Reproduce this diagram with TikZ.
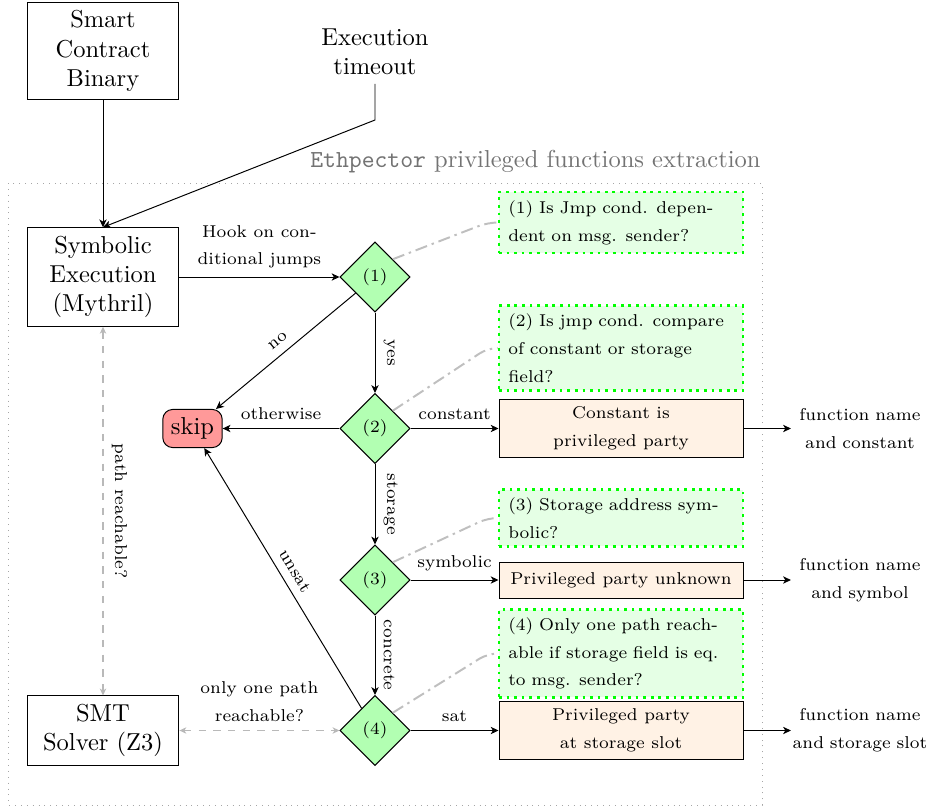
\documentclass[tikz,border=0pt]{standalone}
\usetikzlibrary{shapes.geometric, arrows.meta}
\newcommand\smallfnt{\fontsize{7}{11.3}\selectfont}
\begin{document}
\begin{tikzpicture}[x=0.4082pt, y=-0.4082pt,
  box/.style={draw, align=center, minimum width=62pt, inner sep=3.33pt},
  dec/.style={diamond, draw, fill=green!30, aspect=1, minimum width=28.6pt, minimum height=28.6pt, inner sep=0pt, font=\smallfnt},
  skipbox/.style={draw, rounded corners=4pt, fill=red!40, inner sep=3.33pt},
  note/.style={draw=green, dotted, line width=1.1pt, fill=green!10, align=left, text width=92pt, minimum width=99.6pt, inner sep=3.3pt, font=\smallfnt},
  res/.style={draw, fill=orange!10, align=center, minimum width=99.6pt, inner sep=2pt, font=\smallfnt},
  outtxt/.style={align=center, text width=56pt, inner sep=0pt, font=\smallfnt},
  lbl/.style={font=\smallfnt, align=center},
  arr/.style={-{Stealth[length=3.2pt, width=3pt, inset=0.9pt]}},
  garr/.style={{Stealth[length=2.8pt, width=2.6pt, inset=0.8pt]}-{Stealth[length=2.8pt, width=2.6pt, inset=0.8pt]}, gray!55, dashed, semithick},
  nline/.style={gray!50, thick, dash pattern=on 5pt off 2pt on 1pt off 2pt, rounded corners=4pt},
  frame/.style={draw=gray!70, dotted}
]
\useasboundingbox (0,0) rectangle (928,807);
\draw[frame] (8,183) rectangle (762,805);
\node[anchor=base east, inner sep=0pt, text=black!55] (title) at (761,167) {\texttt{Ethpector} privileged functions extraction};

\node[box] (scb) at (103,51) {Smart\\Contract\\Binary};
\node[align=center] (tmo) at (375,52) {Execution\\timeout};
\node[box] (symb) at (103,277) {Symbolic\\Execution\\(Mythril)};
\node[box] (smt) at (103,730.5) {SMT\\Solver (Z3)};

\node[dec] (d1) at (375,277) {(1)};
\node[dec] (d2) at (375,428.5) {(2)};
\node[dec] (d3) at (375,580) {(3)};
\node[dec] (d4) at (375,730.5) {(4)};

\node[skipbox] (skip) at (192.5,428.5) {skip};

\node[note, minimum height=24.9pt] (n1) at (621,222.5) {(1) Is Jmp cond. depen-\\dent on msg. sender?};
\node[note, minimum height=32.7pt] (n2) at (621,348) {(2) Is jmp cond. compare\\of constant or storage\\field?};
\node[note, minimum height=22.9pt] (n3) at (621,518) {(3) Storage address sym-\\bolic?};
\node[note, minimum height=35.5pt] (n4) at (621,653.5) {(4) Only one path reach-\\able if storage field is eq.\\to msg. sender?};

\node[res, minimum height=23.3pt] (r1) at (621,428.5) {Constant is\\privileged party};
\node[res, minimum height=14.7pt] (r2) at (621,580) {Privileged party unknown};
\node[res, minimum height=23.3pt] (r3) at (621,730.5) {Privileged party\\at storage slot};

\node[outtxt] (o1) at (860,428.5) {function name\\and constant};
\node[outtxt] (o2) at (860,580) {function name\\and symbol};
\node[outtxt] (o3) at (860,730.5) {function name\\and storage slot};

\coordinate (tb) at (375,120);
\draw[arr] (scb) -- (symb);
\draw[arr] (tmo) -- (tb) -- (symb.north);

\draw[arr] (symb) -- node[lbl, above] {Hook on con-\\ditional jumps} (d1);
\draw[arr] (d1) -- node[lbl, midway, rotate=-90, anchor=south] {yes} (d2);
\draw[arr] (d2) -- node[lbl, midway, rotate=-90, anchor=south] {storage} (d3);
\draw[arr] (d3) -- node[lbl, midway, rotate=-90, anchor=south] {concrete} (d4);
\draw[arr] (d1) -- node[lbl, midway, sloped, above] {no} (skip);
\draw[arr] (d2) -- node[lbl, midway, above] {otherwise} (skip);
\draw[arr] (d4) -- node[lbl, midway, sloped, above] {unsat} (skip);
\draw[arr] (d2) -- node[lbl, midway, above] {constant} (r1);
\draw[arr] (d3) -- node[lbl, midway, above] {symbolic} (r2);
\draw[arr] (d4) -- node[lbl, midway, above] {sat} (r3);
\draw[arr] (r1) -- (o1);
\draw[arr] (r2) -- (o2);
\draw[arr] (r3) -- (o3);

\draw[garr] (symb) -- node[lbl, midway, rotate=-90, anchor=south, text=black] {path reachable?} (smt);
\draw[garr] (smt) -- node[lbl, midway, above, text=black] {only one path\\reachable?} (d4);

\draw[nline] (d1.north east) -- ([xshift=-4pt]n1.west) -- (n1.west);
\draw[nline] (d2.north east) -- ([xshift=-4pt]n2.west) -- (n2.west);
\draw[nline] (d3.north east) -- ([xshift=-4pt]n3.west) -- (n3.west);
\draw[nline] (d4.north east) -- ([xshift=-4pt]n4.west) -- (n4.west);
\end{tikzpicture}
\end{document}
